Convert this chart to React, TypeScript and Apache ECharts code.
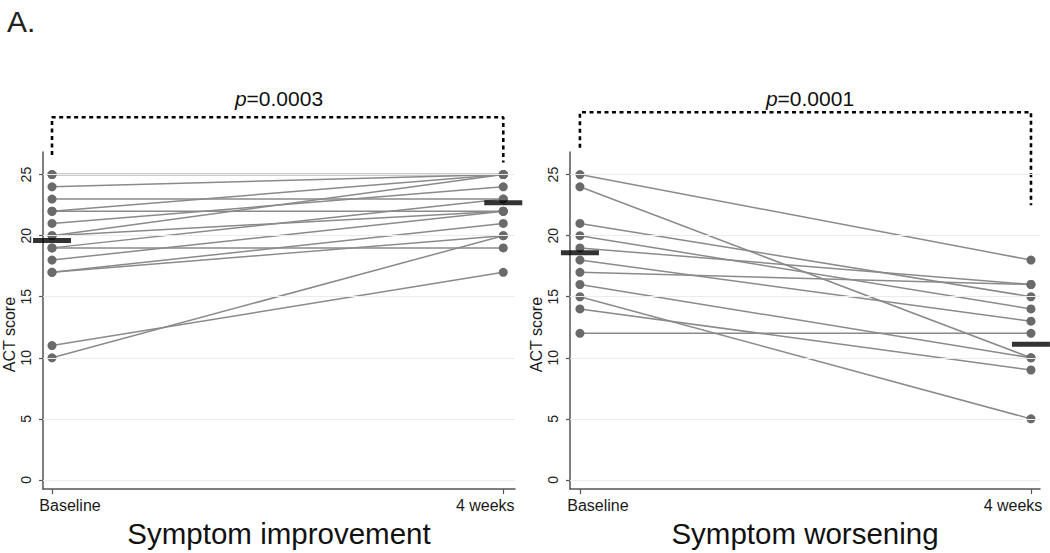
import React, { useEffect, useRef } from "react";
import * as echarts from "echarts";

const timepoints = ["Baseline", "4 weeks"];
const improvementBaseline = [25, 25, 24, 23, 22, 22, 21, 20, 20, 19, 19, 18, 17, 17, 11, 10];
const improvementWeek4 = [25, 25, 25, 23, 25, 22, 24, 25, 22, 23, 19, 22, 21, 20, 17, 20];
const improvementMeans = [19.6, 22.7];
const worseningBaseline = [25, 24, 21, 20, 19, 18, 17, 16, 15, 14, 12];
const worseningWeek4 = [18, 10, 15, 14, 16, 13, 16, 10, 5, 9, 12];
const worseningMeans = [18.6, 11.1];
const yTicks = [0, 5, 10, 15, 20, 25];
const panelTitles = ["Symptom improvement", "Symptom worsening"];
const pValues = ["0.0003", "0.0001"];
// bracket: [left leg bottom, top, right leg bottom] in ACT score units
const improvementBracket = [26.6, 29.7, 26.0];
const worseningBracket = [27.2, 30.1, 22.5];

const FONT = "'Liberation Sans', Arial, Helvetica, sans-serif";

function buildPanel(
  idx: number,
  baseline: number[],
  week4: number[],
  means: number[],
  bracket: number[]
) {
  const series: any[] = [];
  series.push({
    type: "scatter",
    xAxisIndex: idx,
    yAxisIndex: idx,
    data: yTicks.map((v) => [0, v]),
    symbolSize: 0,
    silent: true,
    z: 1,
    markLine: {
      silent: true,
      symbol: ["none", "none"],
      label: { show: false },
      lineStyle: { color: "#ebebeb", width: 1, type: "solid" },
      data: yTicks.map((v) => ({ yAxis: v })),
    },
  });
  baseline.forEach((b, i) => {
    series.push({
      type: "line",
      xAxisIndex: idx,
      yAxisIndex: idx,
      data: [
        [0, b],
        [1, week4[i]],
      ],
      symbol: "circle",
      symbolSize: 9,
      showSymbol: true,
      itemStyle: { color: "#6a6a6a" },
      lineStyle: { color: "#8a8a8a", width: 1.5 },
      silent: true,
      z: 2,
    });
  });
  series.push({
    type: "scatter",
    xAxisIndex: idx,
    yAxisIndex: idx,
    data: means.map((m, i) => [i, m]),
    symbol: "rect",
    symbolSize: [38, 5],
    itemStyle: { color: "#000" },
    silent: true,
    z: 4,
  });
  series.push({
    type: "line",
    xAxisIndex: idx,
    yAxisIndex: idx,
    data: [
      [0, bracket[0]],
      [0, bracket[1]],
      [1, bracket[1]],
      [1, bracket[2]],
    ],
    clip: false,
    symbol: "none",
    lineStyle: { color: "#000", width: 2.6, type: [4, 3.5] },
    silent: true,
    z: 3,
  });
  return series;
}

export default function App() {
  const ref = useRef<HTMLDivElement>(null);
  useEffect(() => {
    if (!ref.current) return;
    const chart = echarts.init(ref.current, undefined, { renderer: "svg" });
    const grids = [
      { left: 41, top: 152, width: 474, bottom: 62 },
      { left: 570, top: 152, width: 470, bottom: 62 },
    ];
    const xRanges = [
      [-0.02, 1.026],
      [-0.022, 1.02],
    ];
    const xAxis = [0, 1].map((i) => ({
      type: "value",
      gridIndex: i,
      min: xRanges[i][0],
      max: xRanges[i][1],
      axisLine: { show: true, onZero: false, lineStyle: { color: "#555", width: 1.5 } },
      axisTick: { show: true, customValues: [0, 1], length: 5, lineStyle: { color: "#555", width: 1.2 } },
      axisLabel: {
        customValues: [0, 1],
        formatter: (v: number) => {
          const k = Math.round(v);
          return k === 0 ? "{a|" + timepoints[0] + "}" : "{b|" + timepoints[1] + "}";
        },
        rich: {
          a: { fontSize: 16, color: "#1a1a1a", fontFamily: FONT, padding: [0, 0, 0, 36] },
          b: { fontSize: 16, color: "#1a1a1a", fontFamily: FONT, padding: [0, 36, 0, 0] },
        },
        fontSize: 16,
        color: "#1a1a1a",
        margin: 8,
        fontFamily: FONT,
      },
      splitLine: { show: false },
      name: panelTitles[i],
      nameLocation: "middle",
      nameGap: 26,
      nameTextStyle: { fontSize: 29.5, color: "#111", fontFamily: FONT },
    }));
    const yAxis = [0, 1].map((i) => ({
      type: "value",
      gridIndex: i,
      min: -0.75,
      max: 26.85,
      axisLine: { show: true, onZero: false, lineStyle: { color: "#555", width: 1.5 } },
      axisTick: { show: true, customValues: yTicks, length: 4, lineStyle: { color: "#555", width: 1.2 } },
      axisLabel: {
        customValues: yTicks,
        rotate: 90,
        fontSize: 14,
        color: "#222",
        margin: 10,
        fontFamily: FONT,
      },
      splitLine: { show: false },
      name: "ACT score",
      nameLocation: "middle",
      nameGap: 26,
      nameTextStyle: { fontSize: 16, color: "#1a1a1a", fontFamily: FONT, padding: [0, 28, 0, 0] },
    }));
    const series = [
      ...buildPanel(0, improvementBaseline, improvementWeek4, improvementMeans, improvementBracket),
      ...buildPanel(1, worseningBaseline, worseningWeek4, worseningMeans, worseningBracket),
    ];
    const pText = (cx: number, val: string) => ({
      type: "text",
      x: cx,
      y: 98,
      style: {
        text: "{i|p}=" + val,
        rich: {
          i: { fontStyle: "italic", fontSize: 21, fontFamily: FONT, fill: "#111" },
        },
        fontSize: 21,
        fontFamily: FONT,
        fill: "#111",
        align: "center",
        verticalAlign: "middle",
      },
    });
    chart.setOption({
      animation: false,
      backgroundColor: "#fff",
      grid: grids,
      xAxis,
      yAxis,
      series,
      graphic: [
        {
          type: "text",
          x: 7,
          y: 21,
          style: {
            text: "A.",
            fontSize: 30,
            fontFamily: FONT,
            fill: "#222",
            verticalAlign: "middle",
          },
        },
        pText(279, pValues[0]),
        pText(810, pValues[1]),
      ],
    });
    return () => chart.dispose();
  }, []);
  return (
    <div
      ref={ref}
      style={{ position: "fixed", left: 0, top: 0, width: 1050, height: 553, background: "#fff" }}
    />
  );
}
